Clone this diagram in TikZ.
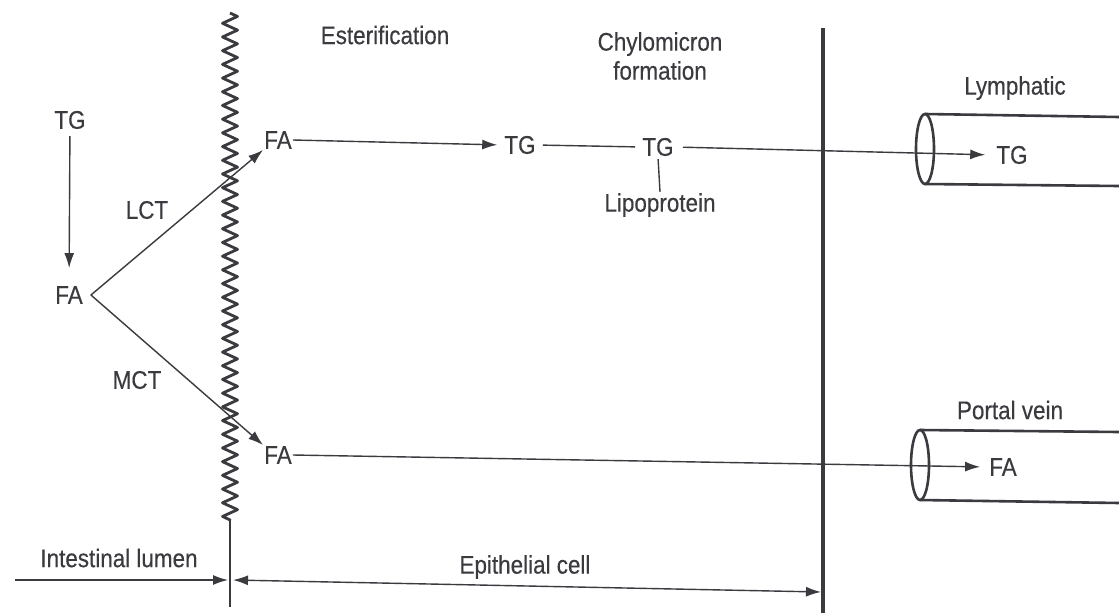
\documentclass[tikz,border=0pt]{standalone}
\usepackage{fontspec}
\setmainfont{Liberation Sans}[FakeStretch=0.88,FakeBold=0.3]
\usetikzlibrary{arrows.meta,decorations.pathmorphing,calc}
\definecolor{ink}{HTML}{3A3A3F}
\begin{document}
\begin{tikzpicture}[x=1pt,y=-1pt,
  lbl/.style={font=\fontsize{25.5}{29}\selectfont, text=ink, inner sep=1pt},
  conn/.style={line width=1.4pt, draw=ink},
  tip/.tip={Latex[length=15pt,width=10pt]},
  arr/.style={conn, -tip},
  darr/.style={conn, tip-tip},
  wall/.style={line width=3.2pt, draw=ink},
  tube/.style={line width=2.6pt, draw=ink}]
\useasboundingbox (0,0) rectangle (1119,613);
\fill[white] (0,0) rectangle (1119,613);

% walls
\coordinate (zt) at (230,13);
\coordinate (zb) at (230,520);
\coordinate (wb) at (230,607);
\draw[line width=2.8pt, draw=ink, line join=round,
  decorate, decoration={zigzag, segment length=13.7pt, amplitude=7.5pt}] (zt) -- (zb);
\draw[line width=2.2pt, draw=ink] (zb) -- (wb);
\coordinate (rt) at (823,28);
\coordinate (rb) at (823,613);
\draw[wall] (rt) -- (rb);

% tubes
\draw[tube] (925,114) -- (1119,117);
\draw[tube] (925,184) -- (1119,186);
\draw[tube] (925,149) ellipse [x radius=9, y radius=35];
\draw[tube] (920,430) -- (1119,432);
\draw[tube] (920,500) -- (1119,503);
\draw[tube] (920,465) ellipse [x radius=9, y radius=35];

% labels
\node[lbl] (tg0) at (70,120) {TG};
\node[lbl] (fa0) at (69,295) {FA};
\node[lbl] (lct) at (147,210) {LCT};
\node[lbl] (mct) at (137,380) {MCT};
\node[lbl] (fa1) at (278,140) {FA};
\node[lbl] (fa2) at (278,455) {FA};
\node[lbl] (est) at (385,35) {Esterification};
\node[lbl, align=center] (chy) at (660,56) {Chylomicron\\formation};
\node[lbl] (tg1) at (520,145) {TG};
\node[lbl] (tg2) at (658,147) {TG};
\node[lbl] (lipo) at (660,205) {Lipoprotein};
\node[lbl] (lym) at (1015,88) {Lymphatic};
\node[lbl] (tg3) at (1012,155) {TG};
\node[lbl] (por) at (1010,410) {Portal vein};
\node[lbl] (fa3) at (1003,467) {FA};
\node[lbl] (lum) at (119,558) {Intestinal lumen};
\node[lbl] (epi) at (525,567) {Epithelial cell};

% connectors
\draw[arr, shorten <=6pt, shorten >=17pt] (tg0) -- (fa0);
\coordinate (apex) at ($(fa0.east)+(7,0)$);
\draw[arr] (apex) -- (fa1.south west);
\draw[arr] (apex) -- (fa2.north west);
\draw[arr, shorten >=6pt] (fa1.east) -- (tg1.west);
\draw[conn, shorten <=6pt, shorten >=6pt] (tg1.east) -- (tg2.west);
\draw[conn, shorten <=2pt] (tg2.south) -- (lipo.north);
\draw[arr, shorten <=8pt, shorten >=10pt] (tg2.east) -- (tg3.west);
\draw[arr, shorten >=8pt] (fa2.east) -- (fa3.west);

\coordinate (lumL) at (15,580);
\coordinate (lumR) at (228,580);
\draw[arr] (lumL) -- (lumR);
\coordinate (epiL) at (233,580);
\coordinate (epiR) at (821,592);
\draw[darr] (epiL) -- (epiR);
\end{tikzpicture}
\end{document}
